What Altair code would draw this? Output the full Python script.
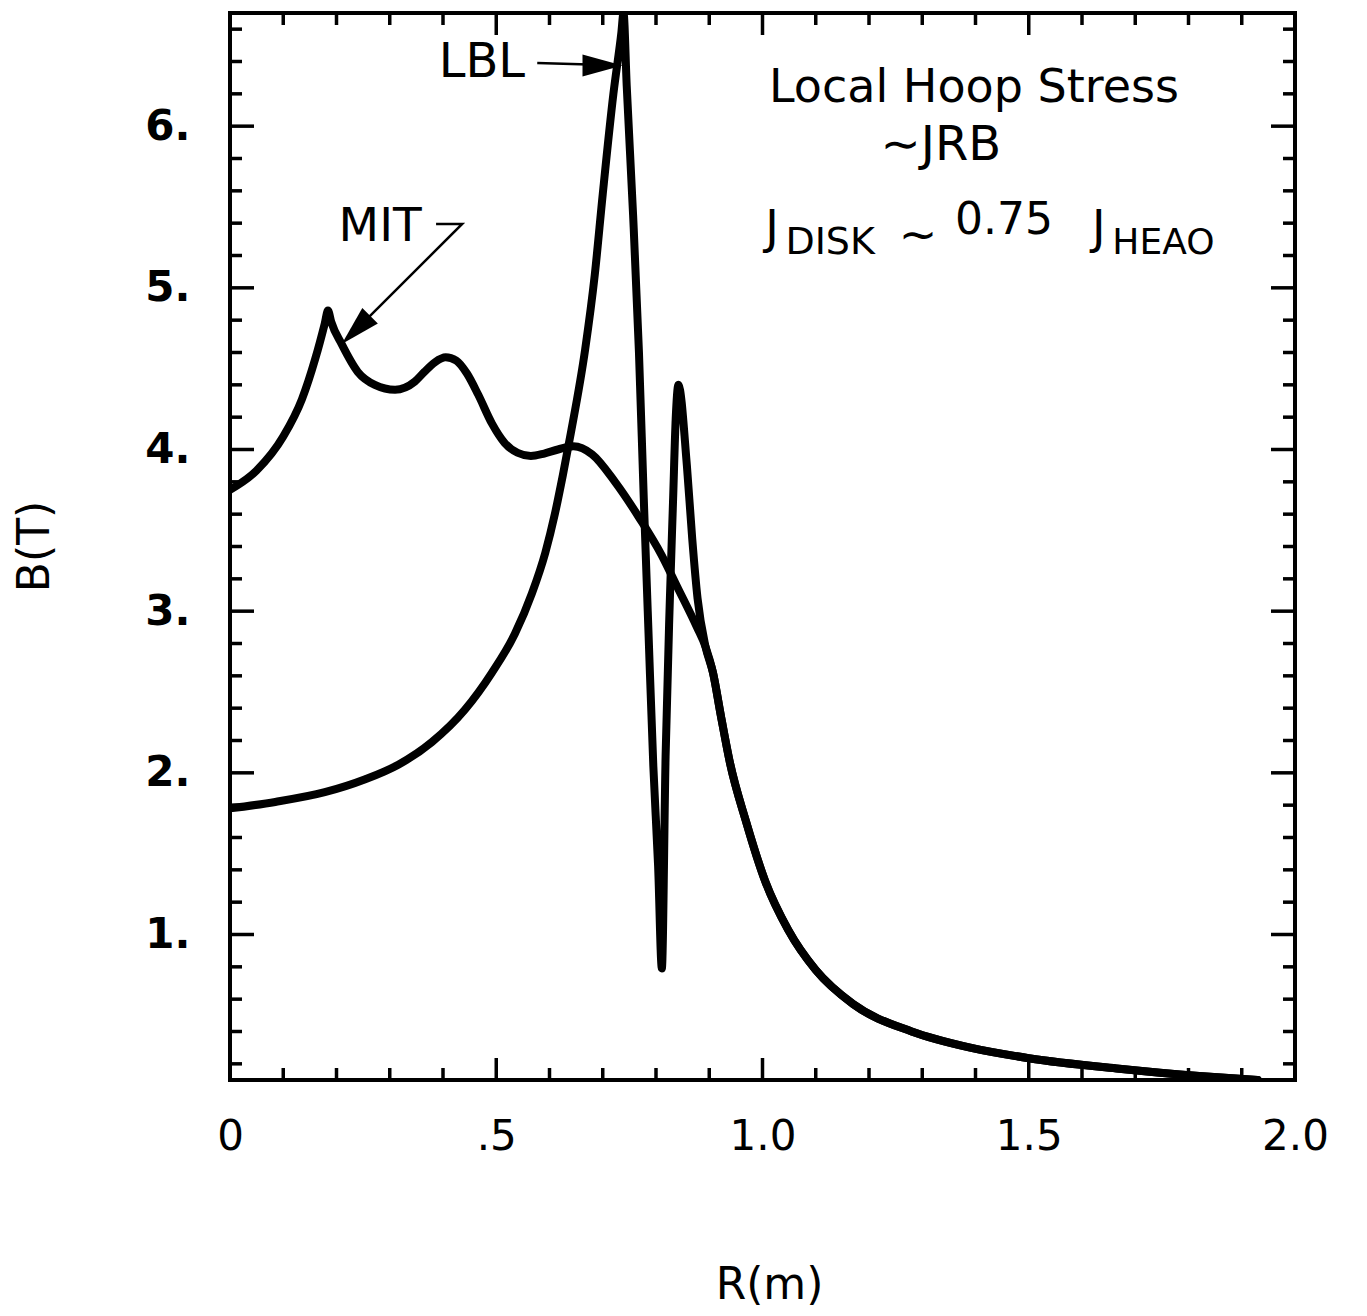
import altair as alt
import pandas as pd

# ---- data ----
TAIL_R = [0.893, 0.907, 0.922, 0.939, 0.969, 1.005, 1.048, 1.10, 1.17, 1.28, 1.39, 1.50, 1.67, 1.82, 1.93]
TAIL_B = [2.78, 2.62, 2.35, 2.06, 1.70, 1.33, 1.03, 0.78, 0.57, 0.40, 0.30, 0.235, 0.17, 0.125, 0.10]

MIT_R = [0.0, 0.05, 0.10, 0.135, 0.16, 0.178, 0.184, 0.19, 0.21, 0.24, 0.272, 0.31, 0.347,
         0.365, 0.385, 0.405, 0.425, 0.445, 0.466, 0.492, 0.516, 0.54, 0.565, 0.59, 0.616,
         0.645, 0.68, 0.723, 0.77, 0.81, 0.84, 0.877] + TAIL_R
MIT_B = [3.75, 3.87, 4.08, 4.31, 4.56, 4.78, 4.86, 4.79, 4.65, 4.48, 4.40, 4.37, 4.42,
         4.48, 4.54, 4.57, 4.55, 4.47, 4.34, 4.16, 4.04, 3.98, 3.96, 3.975, 4.00,
         4.02, 3.97, 3.80, 3.57, 3.35, 3.15, 2.90] + TAIL_B

LBL_R = [0.0, 0.085, 0.178, 0.254, 0.316, 0.379, 0.441, 0.492, 0.535, 0.567, 0.592,
         0.61, 0.625, 0.64, 0.667, 0.685, 0.70, 0.72, 0.735, 0.739, 0.745, 0.757, 0.768,
         0.777, 0.786, 0.795, 0.804, 0.811, 0.818, 0.826, 0.832, 0.837, 0.842,
         0.858, 0.868, 0.878] + TAIL_R
LBL_B = [1.78, 1.82, 1.88, 1.96, 2.05, 2.19, 2.39, 2.62, 2.86, 3.11, 3.36,
         3.60, 3.84, 4.10, 4.62, 5.08, 5.58, 6.20, 6.58, 6.70, 6.25, 5.45, 4.60,
         3.70, 2.86, 2.04, 1.42, 0.79, 2.10, 3.07, 3.68, 4.19, 4.40,
         3.90, 3.45, 3.08] + TAIL_B

X_LABEL_VALUES = [0, 0.5, 1.0, 1.5, 2.0]
Y_LABEL_VALUES = [1, 2, 3, 4, 5, 6]
X_MAJOR = [0.5, 1.0, 1.5]
X_MINOR = [0.1, 0.2, 0.3, 0.4, 0.6, 0.7, 0.8, 0.9, 1.1, 1.2, 1.3, 1.4, 1.6, 1.7, 1.8, 1.9]
Y_MAJOR = [1, 2, 3, 4, 5, 6]
Y_MINOR = [0.2, 0.4, 0.6, 0.8, 1.2, 1.4, 1.6, 1.8, 2.2, 2.4, 2.6, 2.8, 3.2, 3.4, 3.6, 3.8,
           4.2, 4.4, 4.6, 4.8, 5.2, 5.4, 5.6, 5.8, 6.2, 6.4, 6.6]

# annotation texts (data coordinates)
CENTER_TEXT = ["LBL", "MIT", "Local Hoop Stress", "\u223cJRB", "\u223c"]
CENTER_R = [0.473, 0.282, 1.397, 1.335, 1.292]
CENTER_B = [6.39, 5.377, 6.236, 5.88, 5.321]
CENTER_SIZE = [48, 47, 46, 48, 46]

LEFT_TEXT = ["J", "DISK", "0.75", "J", "HEAO"]
LEFT_R = [1.005, 1.043, 1.3615, 1.619, 1.657]
LEFT_B = [5.364, 5.278, 5.414, 5.364, 5.278]
LEFT_SIZE = [46, 38, 44, 46, 36]

# arrows
LBL_ARROW_R = [0.577, 0.69]
LBL_ARROW_B = [6.39, 6.38]
MIT_ARROW_R = [0.387, 0.436, 0.232]
MIT_ARROW_B = [5.395, 5.395, 4.725]
HEAD_R = [0.6995, 0.2365]
HEAD_B = [6.375, 4.74]
HEAD_ANGLE = [0, 135]

W, H = 1065, 1067
FONT = "DejaVu Sans"

xs = alt.Scale(domain=[0, 2], nice=False, zero=False)
ys = alt.Scale(domain=[0.1, 6.7], nice=False, zero=False)

curves = pd.concat([
    pd.DataFrame({"R": MIT_R, "B": MIT_B, "s": "MIT", "i": range(len(MIT_R))}),
    pd.DataFrame({"R": LBL_R, "B": LBL_B, "s": "LBL", "i": range(len(LBL_R))}),
])

x_axis = alt.Axis(values=X_LABEL_VALUES, ticks=False, domain=False, grid=False,
                  labelExpr="datum.value == 0 ? '0' : (datum.value == 0.5 ? '.5' : format(datum.value, '.1f'))",
                  labelFont=FONT, labelFontSize=42, labelColor="black", labelPadding=36,
                  labelOverlap=False, labelBound=False, labelFlush=False,
                  title="R(m)", titleFont=FONT, titleFontSize=44, titleFontWeight="normal",
                  titleColor="black", titleX=539, titleY=218, titleBaseline="alphabetic",
                  titleAlign="center")
y_axis = alt.Axis(values=Y_LABEL_VALUES, ticks=False, domain=False, grid=False,
                  labelExpr="datum.value + '.'",
                  labelFont=FONT, labelFontSize=42, labelFontWeight="bold", labelColor="black",
                  labelPadding=40, labelOverlap=False, labelBound=False, labelFlush=False,
                  title="B(T)", titleFont=FONT, titleFontSize=44, titleFontWeight="normal",
                  titleColor="black", titleAngle=270, titleX=-195, titleY=533,
                  titleAlign="center", titleBaseline="middle")

X = lambda: alt.X("R:Q", scale=xs, axis=x_axis)
Y = lambda: alt.Y("B:Q", scale=ys, axis=y_axis)

lines = alt.Chart(curves).mark_line(color="black", strokeWidth=8, interpolate="monotone",
                                    clip=True, strokeJoin="round", strokeCap="round").encode(
    x=X(), y=Y(), detail="s:N", order="i:Q")

def xticks(vals, length):
    df = pd.DataFrame({"R": vals})
    bot = alt.Chart(df).mark_rule(color="black", strokeWidth=3.5).encode(
        x=X(), y=alt.value(H), y2=alt.value(H - length))
    top = alt.Chart(df).mark_rule(color="black", strokeWidth=3.5).encode(
        x=X(), y=alt.value(0), y2=alt.value(length))
    return [bot, top]

def yticks(vals, length):
    df = pd.DataFrame({"B": vals})
    left = alt.Chart(df).mark_rule(color="black", strokeWidth=3.5).encode(
        y=Y(), x=alt.value(0), x2=alt.value(length))
    right = alt.Chart(df).mark_rule(color="black", strokeWidth=3.5).encode(
        y=Y(), x=alt.value(W), x2=alt.value(W - length))
    return [left, right]

tick_layers = xticks(X_MINOR, 12) + xticks(X_MAJOR, 22) + yticks(Y_MINOR, 12) + yticks(Y_MAJOR, 24)

center_df = pd.DataFrame({"t": CENTER_TEXT, "R": CENTER_R, "B": CENTER_B, "sz": CENTER_SIZE})
left_df = pd.DataFrame({"t": LEFT_TEXT, "R": LEFT_R, "B": LEFT_B, "sz": LEFT_SIZE})

center_text = alt.Chart(center_df).mark_text(font=FONT, color="black", align="center",
                                             baseline="middle").encode(
    x=X(), y=Y(), text="t:N", size=alt.Size("sz:Q", scale=None))
left_text = alt.Chart(left_df).mark_text(font=FONT, color="black", align="left",
                                         baseline="middle").encode(
    x=X(), y=Y(), text="t:N", size=alt.Size("sz:Q", scale=None))

arrows_df = pd.concat([
    pd.DataFrame({"R": LBL_ARROW_R, "B": LBL_ARROW_B, "a": "LBL", "i": range(len(LBL_ARROW_R))}),
    pd.DataFrame({"R": MIT_ARROW_R, "B": MIT_ARROW_B, "a": "MIT", "i": range(len(MIT_ARROW_R))}),
])
arrow_lines = alt.Chart(arrows_df).mark_line(color="black", strokeWidth=2.5).encode(
    x=X(), y=Y(), detail="a:N", order="i:Q")

heads_df = pd.DataFrame({"R": HEAD_R, "B": HEAD_B, "ang": HEAD_ANGLE})
heads = alt.Chart(heads_df).mark_point(shape="M1,0 L-1,-0.55 L-1,0.55 Z", filled=True,
                                       color="black", opacity=1, size=1600).encode(
    x=X(), y=Y(), angle=alt.Angle("ang:Q", scale=None))

chart = alt.layer(lines, *tick_layers, arrow_lines, heads, center_text, left_text).properties(
    width=W, height=H,
    autosize=alt.AutoSizeParams(type="none"),
    padding={"left": 222, "top": 5, "right": 40, "bottom": 228},
    background="white",
).configure_view(stroke="black", strokeWidth=4)

chart.save("out.html", embed_options={"renderer": "svg", "actions": False})
